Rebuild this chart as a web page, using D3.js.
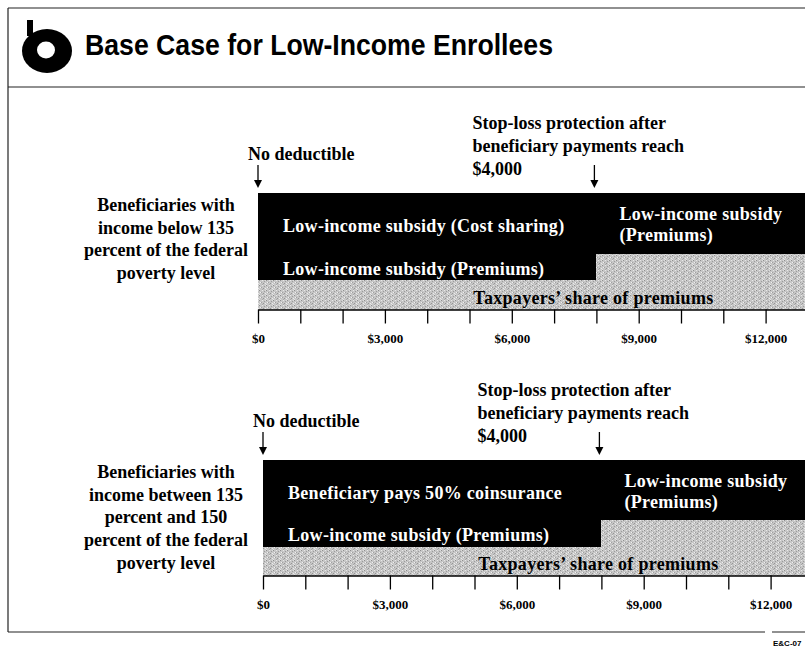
<!DOCTYPE html>
<html>
<head>
<meta charset="utf-8">
<script src="https://cdn.jsdelivr.net/npm/d3@7"></script>
<style>
  body { margin: 0; background: #fff; }
  svg { display: block; }
</style>
</head>
<body>
<script>
// ---- data ----
const spendMax = 13000;                    // right end of the drawn spending axis
const tickValues = d3.range(0, 13000, 1000);
const labelledTicks = [0, 3000, 6000, 9000, 12000];
const stopLoss = 8000;                     // total spending where beneficiary payments reach $4,000

const panelNames = ["below135", "between135and150"];
const groupLabels = [
  ["Beneficiaries with", "income below 135", "percent of the federal", "poverty level"],
  ["Beneficiaries with", "income between 135", "percent and 150", "percent of the federal", "poverty level"]
];
const upperLeftText = ["Low-income subsidy (Cost sharing)", "Beneficiary pays 50% coinsurance"];

// bar segments (spending from/to, share of bar height low/high), same in both panels
const segKind = ["taxpayer", "taxpayer", "premium", "upper", "premium"];
const segFrom = [0, 8000, 0, 0, 8000];
const segTo   = [8000, 13000, 8000, 8000, 13000];
const segLow  = [0, 0, 0.25, 0.5, 0.48];
const segHigh = [0.25, 0.48, 0.5, 1, 1];

const stopLossText = ["Stop-loss protection after", "beneficiary payments reach", "$4,000"];

// ---- layout ----
const width = 805, height = 647;
const serif = "'Liberation Serif', 'Times New Roman', serif";
const panelLayout = [
  { top: 193, bottom: 309.5, x0: 258 },
  { top: 460, bottom: 575.5, x0: 263 }
];
const pxPer1000 = 42.3;

const svg = d3.select("body").append("svg")
    .attr("width", width)
    .attr("height", height);

// halftone-like gray used on the scanned slide (fixed speckle layout, not data)
const defs = svg.append("defs");
const pat = defs.append("pattern")
    .attr("id", "dither")
    .attr("width", 7).attr("height", 5)
    .attr("patternUnits", "userSpaceOnUse");
pat.append("rect").attr("width", 7).attr("height", 5).attr("fill", "#c6c6c6");
[[0, 0, "#8e8e8e"], [3, 0, "#e8e8e8"], [5, 1, "#9c9c9c"], [1, 2, "#f0f0f0"], [2, 2, "#a0a0a0"],
 [6, 3, "#ececec"], [4, 3, "#949494"], [0, 4, "#e2e2e2"], [3, 4, "#a8a8a8"], [6, 0, "#dcdcdc"]]
  .forEach(([px, py, c]) => pat.append("rect").attr("x", px).attr("y", py)
      .attr("width", 1).attr("height", 1).attr("fill", c));

// frame
const frame = svg.append("g").attr("stroke", "#222").attr("stroke-width", 1.2).attr("fill", "none");
frame.append("line").attr("x1", 8).attr("x2", width).attr("y1", 8).attr("y2", 8);
frame.append("line").attr("x1", 8).attr("x2", 8).attr("y1", 8).attr("y2", 632);
frame.append("line").attr("x1", 8).attr("x2", width).attr("y1", 87).attr("y2", 87);
frame.append("line").attr("x1", 8).attr("x2", 765).attr("y1", 632).attr("y2", 632);
frame.append("line").attr("x1", 772).attr("x2", width).attr("y1", 632).attr("y2", 632);

svg.append("text")
    .attr("x", 773).attr("y", 646)
    .attr("font-family", "'Liberation Sans', Arial, sans-serif")
    .attr("font-weight", "bold").attr("font-size", 8)
    .text("E&C-07");

// logo: a "b" ring
const logo = svg.append("g");
logo.append("rect").attr("x", 27).attr("y", 20).attr("width", 6).attr("height", 16).attr("fill", "#000");
logo.append("ellipse").attr("cx", 47).attr("cy", 51).attr("rx", 25).attr("ry", 22).attr("fill", "#000");
logo.append("ellipse").attr("cx", 46).attr("cy", 50).attr("rx", 9).attr("ry", 8.5).attr("fill", "#fff");

// title
svg.append("text")
    .attr("x", 85).attr("y", 55)
    .attr("font-family", "'Liberation Sans', Arial, sans-serif")
    .attr("font-weight", "bold").attr("font-size", 30)
    .attr("textLength", 468).attr("lengthAdjust", "spacingAndGlyphs")
    .text("Base Case for Low-Income Enrollees");

function arrow(g, x, y1, y2) {
  g.append("line").attr("x1", x).attr("x2", x).attr("y1", y1).attr("y2", y2 - 6)
      .attr("stroke", "#000").attr("stroke-width", 1.3);
  g.append("path").attr("d", `M${x - 4},${y2 - 8}L${x + 4},${y2 - 8}L${x},${y2}Z`).attr("fill", "#000");
}

panelNames.forEach((name, p) => {
  const L = panelLayout[p];
  const x = d3.scaleLinear().domain([0, spendMax]).range([L.x0, L.x0 + pxPer1000 * spendMax / 1000]);
  const y = d3.scaleLinear().domain([0, 1]).range([L.bottom, L.top]);
  const g = svg.append("g").attr("class", name);

  // group label on the left
  g.append("text")
      .attr("text-anchor", "middle")
      .attr("font-family", serif).attr("font-weight", "bold").attr("font-size", 18)
    .selectAll("tspan")
    .data(groupLabels[p])
    .join("tspan")
      .attr("x", 166)
      .attr("y", (d, i) => L.top + 18 + i * 22.7)
      .text(d => d);

  // bar segments
  g.append("g").attr("shape-rendering", "crispEdges")
    .selectAll("rect")
    .data(segKind.map((k, i) => ({ k, from: segFrom[i], to: segTo[i], lo: segLow[i], hi: segHigh[i] })))
    .join("rect")
      .attr("x", d => x(d.from))
      .attr("width", d => x(d.to) - x(d.from))
      .attr("y", d => y(d.hi))
      .attr("height", d => y(d.lo) - y(d.hi))
      .attr("fill", d => d.k === "taxpayer" ? "url(#dither)" : "#000");

  // labels inside the bars
  const lab = g.append("g")
      .attr("font-family", serif).attr("font-weight", "bold").attr("font-size", 18)
      .attr("letter-spacing", 0.3);
  const mid = (lo, hi) => (y(lo) + y(hi)) / 2;
  lab.append("text").attr("fill", "#fff")
      .attr("x", x(0) + 25).attr("y", mid(0.5, 1) + 10)
      .text(upperLeftText[p]);
  lab.append("text").attr("fill", "#fff")
      .attr("x", x(0) + 25).attr("y", mid(0.25, 0.5) + 9)
      .text("Low-income subsidy (Premiums)");
  lab.append("text").attr("fill", "#fff")
      .attr("x", x(stopLoss) + 23).attr("y", mid(0.48, 1) - 3)
      .text("Low-income subsidy");
  lab.append("text").attr("fill", "#fff")
      .attr("x", x(stopLoss) + 23).attr("y", mid(0.48, 1) + 18)
      .text("(Premiums)");
  lab.append("text").attr("fill", "#000")
      .attr("text-anchor", "middle")
      .attr("x", x(stopLoss) - 3).attr("y", mid(0, 0.25) + 9)
      .text("Taxpayers\u2019 share of premiums");

  // axis
  const axis = g.append("g")
      .attr("transform", `translate(0,${L.bottom})`)
      .call(d3.axisBottom(x)
        .tickValues(tickValues)
        .tickSize(14)
        .tickSizeOuter(0)
        .tickPadding(10)
        .tickFormat(d => labelledTicks.includes(d) ? d3.format("$,")(d) : ""));
  axis.select(".domain").attr("stroke", "#000").attr("stroke-width", 1.4);
  axis.selectAll(".tick line").attr("stroke", "#000").attr("stroke-width", 1.3);
  axis.selectAll(".tick text")
      .attr("fill", "#000")
      .attr("font-family", serif).attr("font-weight", "bold").attr("font-size", 13);

  // annotations
  const ann = g.append("g")
      .attr("font-family", serif).attr("font-weight", "bold").attr("font-size", 18);
  ann.append("text")
      .attr("x", x(0) - 10).attr("y", L.top - 33)
      .text("No deductible");
  arrow(ann, x(0), L.top - 28, L.top - 5);

  ann.append("text")
    .selectAll("tspan")
    .data(stopLossText)
    .join("tspan")
      .attr("x", x(stopLoss) - 124)
      .attr("y", (d, i) => L.top - 64 + i * 23)
      .text(d => d);
  arrow(ann, x(stopLoss) - 2, L.top - 28, L.top - 5);
});
</script>
</body>
</html>
